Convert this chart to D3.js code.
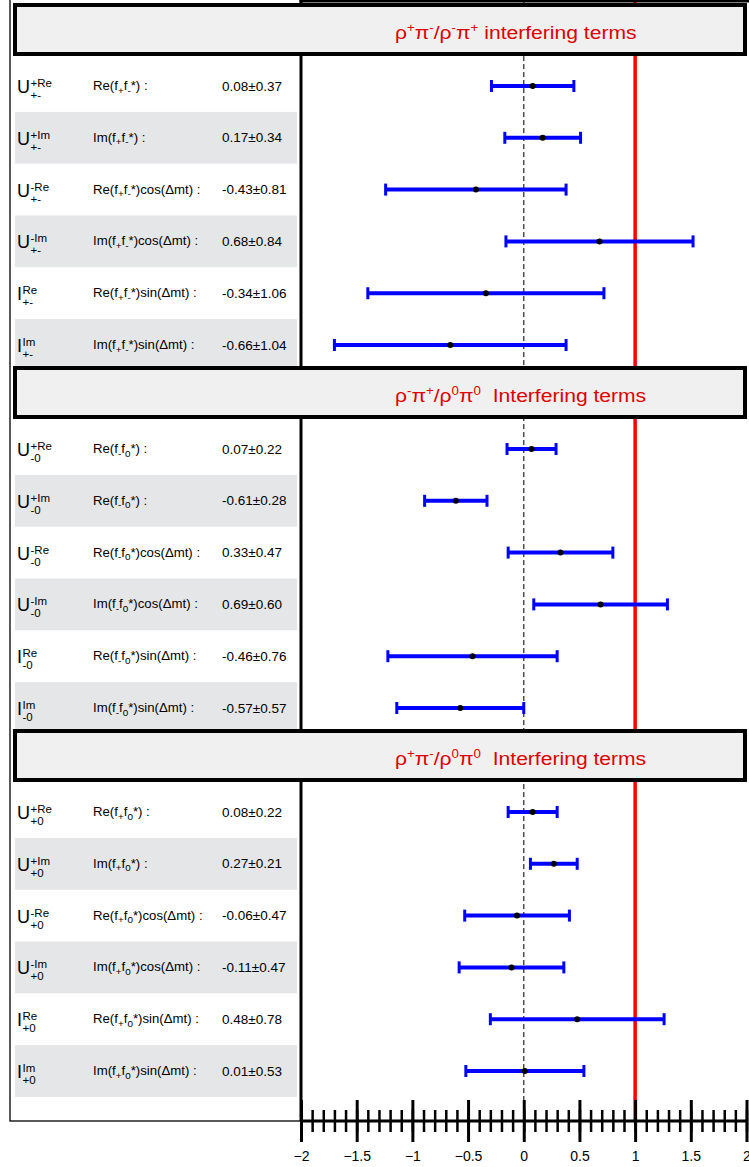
<!DOCTYPE html>
<html><head><meta charset="utf-8">
<script src="https://cdn.jsdelivr.net/npm/d3@7"></script>
<style>body{margin:0;background:#fff}svg{display:block}text{white-space:pre}</style>
</head><body>
<svg id="c" width="749" height="1167"></svg>
<script>
// ---- data ----
const sectionTitles = [
  [["ρ",""],["+","sup"],["π",""],["-","sup"],["/ρ",""],["-","sup"],["π",""],["+","sup"],[" interfering terms",""]],
  [["ρ",""],["-","sup"],["π",""],["+","sup"],["/ρ",""],["0","sup"],["π",""],["0","sup"],["  Interfering terms",""]],
  [["ρ",""],["+","sup"],["π",""],["-","sup"],["/ρ",""],["0","sup"],["π",""],["0","sup"],["  Interfering terms",""]]
];
const sectionSubs = ["+-", "-0", "+0"];
const fSubs = [["+","-"], ["-","0"], ["+","0"]];
const symbols = ["U","U","U","U","I","I"];
const supers = ["+Re","+Im","-Re","-Im","Re","Im"];
const labelParts1 = ["Re","Im","Re","Im","Re","Im"];
const labelParts2 = ["Re","Re","Re","Im","Re","Im"];
const labelParts3 = ["Re","Im","Re","Im","Re","Im"];
const labelSuffix = ["*) :","*) :","*)cos(Δmt) :","*)cos(Δmt) :","*)sin(Δmt) :","*)sin(Δmt) :"];
const values1 = [0.08, 0.17, -0.43, 0.68, -0.34, -0.66];
const errors1 = [0.37, 0.34, 0.81, 0.84, 1.06, 1.04];
const values2 = [0.07, -0.61, 0.33, 0.69, -0.46, -0.57];
const errors2 = [0.22, 0.28, 0.47, 0.60, 0.76, 0.57];
const values3 = [0.08, 0.27, -0.06, -0.11, 0.48, 0.01];
const errors3 = [0.22, 0.21, 0.47, 0.47, 0.78, 0.53];
const xDomain = [-2, 2];
const majorTicks = [-2, -1.5, -1, -0.5, 0, 0.5, 1, 1.5, 2];
const minorTicks = d3.range(-20, 21).map(d => d / 10);
const refLine = 1;

const sections = [
  {parts: labelParts1, values: values1, errors: errors1},
  {parts: labelParts2, values: values2, errors: errors2},
  {parts: labelParts3, values: values3, errors: errors3}
];

// ---- layout ----
const svg = d3.select("#c");
const x = d3.scaleLinear().domain(xDomain).range([301, 746.5]);
const secH = 363, secTop0 = 3, rowH = 51.8, row0 = 83;
const axisY = 1121;
const font = "'Liberation Sans', Arial, sans-serif";

function stext(g, px, py, size, sx) {
  return g.append("text").attr("transform", `translate(${px},${py}) scale(${sx},1)`)
    .attr("font-family", font).attr("font-size", size).attr("fill", "#000");
}

// left box
svg.append("rect").attr("x", 10).attr("y", -2).attr("width", 291).attr("height", axisY + 2)
  .attr("fill", "#fff").attr("stroke", "#000").attr("stroke-width", 1.3);

// shaded bands
sections.forEach((sec, s) => {
  sec.values.forEach((v, i) => {
    const k = s * 6 + i;
    if (k % 2 === 1) {
      const cy = secTop0 + s * secH + row0 + i * rowH;
      svg.append("rect").attr("x", 15).attr("y", cy - rowH / 2).attr("width", 282).attr("height", rowH)
        .attr("fill", "#e5e6e8");
    }
  });
});

// reference lines
svg.append("line").attr("x1", x(0)).attr("x2", x(0)).attr("y1", 0).attr("y2", axisY - 21)
  .attr("stroke", "#444").attr("stroke-width", 1.4).attr("stroke-dasharray", "5,3");
svg.append("line").attr("x1", x(refLine)).attr("x2", x(refLine)).attr("y1", 0).attr("y2", axisY)
  .attr("stroke", "#ff0000").attr("stroke-width", 3.5);

// plot frame left + top
svg.append("line").attr("x1", x(-2)).attr("x2", x(-2)).attr("y1", 0).attr("y2", axisY)
  .attr("stroke", "#000").attr("stroke-width", 3);
svg.append("line").attr("x1", x(-2) - 1.5).attr("x2", 749).attr("y1", 1).attr("y2", 1)
  .attr("stroke", "#000").attr("stroke-width", 3);

// rows
sections.forEach((sec, s) => {
  const top = secTop0 + s * secH;
  sec.values.forEach((v, i) => {
    const cy = top + row0 + i * rowH;
    const g = svg.append("g");
    // symbol
    const sym = stext(g, 17, cy + 7, 18, 1).text(symbols[i]);
    const sw = sym.node().getComputedTextLength();
    stext(g, 17 + sw + 0.5, cy + 1, 11.5, 1).text(supers[i]);
    stext(g, 17 + sw + 0.5, cy + 13, 11.5, 1).text(sectionSubs[s]);
    // label
    const t = stext(g, 93, cy + 4, 12, 1.1);
    t.append("tspan").text(sec.parts[i] + "(f");
    t.append("tspan").attr("font-size", 9).attr("dy", 3.5).text(fSubs[s][0]);
    t.append("tspan").attr("dy", -3.5).text("f");
    t.append("tspan").attr("font-size", 9).attr("dy", 3.5).text(fSubs[s][1]);
    t.append("tspan").attr("dy", -3.5).text(labelSuffix[i]);
    // value
    stext(g, 222, cy + 4.5, 12.3, 1.1).text(d3.format(".2f")(v).replace("−", "-") + "±" + d3.format(".2f")(sec.errors[i]));
    // error bar
    const e = sec.errors[i];
    g.append("line").attr("x1", x(v - e)).attr("x2", x(v + e)).attr("y1", cy).attr("y2", cy)
      .attr("stroke", "#0000ff").attr("stroke-width", 4);
    [v - e, v + e].forEach(xx => {
      g.append("line").attr("x1", x(xx)).attr("x2", x(xx)).attr("y1", cy - 6).attr("y2", cy + 6)
        .attr("stroke", "#0000ff").attr("stroke-width", 3);
    });
    g.append("circle").attr("cx", x(v)).attr("cy", cy).attr("r", 3).attr("fill", "#000");
  });
  // header
  svg.append("rect").attr("x", 15).attr("y", top + 2).attr("width", 730).attr("height", 49)
    .attr("fill", "#f0f0f0").attr("stroke", "#000").attr("stroke-width", 4);
  const tt = stext(svg, 395, top + 36, 19, 1.11).attr("fill", "#dd0000");
  let prevSup = false;
  sectionTitles[s].forEach(([txt, kind]) => {
    if (kind === "sup") { tt.append("tspan").attr("font-size", 12).attr("dy", -7).text(txt); prevSup = true; }
    else { tt.append("tspan").attr("dy", prevSup ? 7 : 0).text(txt); prevSup = false; }
  });
});

// axis
const axisG = svg.append("g").attr("transform", `translate(0,${axisY})`);
axisG.append("line").attr("x1", x(-2)).attr("x2", x(2)).attr("y1", 0).attr("y2", 0)
  .attr("stroke", "#000").attr("stroke-width", 3);
const minorAxis = d3.axisBottom(x).tickValues(minorTicks).tickSize(11).tickFormat("");
const mg = axisG.append("g").call(minorAxis);
mg.select(".domain").remove();
mg.selectAll(".tick line").attr("y1", -11).attr("stroke", "#000").attr("stroke-width", 2.5);
const majorAxis = d3.axisBottom(x).tickValues(majorTicks).tickSize(21).tickPadding(9)
  .tickFormat(d => d3.format("")(d));
const Mg = axisG.append("g").call(majorAxis);
Mg.select(".domain").remove();
Mg.selectAll(".tick line").attr("y1", -21).attr("stroke", "#000").attr("stroke-width", 3);
Mg.selectAll(".tick text").attr("font-family", font).attr("font-size", 14).attr("fill", "#000");
</script>
</body></html>
